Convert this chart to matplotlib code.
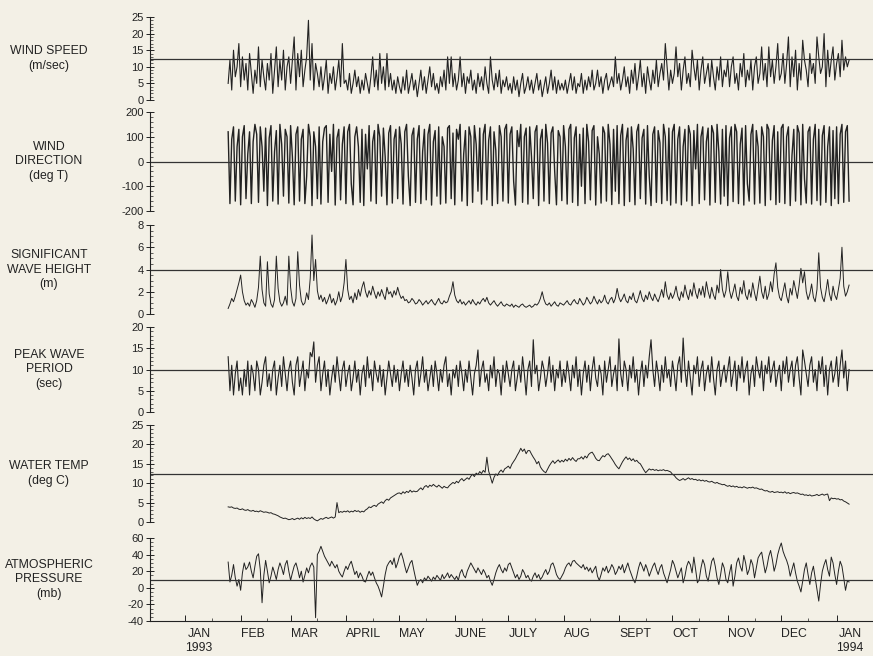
import numpy as np
import matplotlib
matplotlib.use("Agg")
from matplotlib import pyplot as plt
from matplotlib.ticker import MultipleLocator

plt.rcParams['font.family'] = ['Liberation Sans', 'DejaVu Sans']
plt.rcParams['axes.unicode_minus'] = False

# daily values, first day = 25 Jan 1993 (day 24 counted from 1 Jan 1993)
start_day = 24

wind_speed = [
    5, 12, 3, 15, 7, 10, 17,
    4, 13, 6, 11, 3, 14, 8, 2, 9, 5, 16, 4, 12, 7, 3, 11, 6, 14, 2, 9, 16, 4, 12, 6, 15, 3, 10, 13,
    5, 12, 19, 3, 14, 7, 15, 4, 9, 13, 24, 6, 17, 3, 11, 8, 4, 10, 3, 7, 12, 2, 8, 5, 10, 3, 7, 12, 4, 17, 5,
    6, 3, 8, 2, 5, 9, 4, 7, 2, 6, 3, 8, 5, 2, 7, 13, 4, 9, 3, 14, 5, 10, 3, 14, 4, 8, 3, 6, 2, 7,
    4, 2, 7, 3, 9, 2, 5, 8, 3, 6, 1, 5, 9, 3, 7, 2, 6, 10, 4, 8, 3, 5, 2, 7, 4, 9, 3, 13, 5, 13, 4,
    8, 3, 6, 13, 4, 8, 2, 7, 5, 9, 3, 6, 2, 8, 4, 7, 3, 10, 5, 2, 13, 6, 3, 8, 4, 9, 2, 6, 4, 7,
    3, 5, 2, 7, 3, 6, 1, 5, 8, 2, 4, 7, 3, 6, 2, 5, 8, 3, 6, 1, 4, 7, 2, 5, 9, 3, 7, 2, 6, 3, 5,
    3, 6, 2, 5, 8, 3, 7, 2, 5, 4, 8, 2, 6, 3, 7, 4, 9, 3, 5, 9, 4, 7, 2, 6, 8, 3, 5, 7, 4, 13, 5,
    8, 3, 6, 10, 4, 7, 2, 9, 5, 11, 3, 7, 12, 4, 8, 2, 10, 6, 3, 9, 5, 12, 4, 8, 11, 6, 17, 10, 3, 9,
    5, 8, 16, 7, 11, 3, 9, 13, 5, 8, 4, 15, 10, 6, 12, 3, 9, 13, 5, 8, 11, 4, 12, 7, 3, 10, 6, 13, 4, 9, 7,
    12, 4, 10, 13, 5, 8, 3, 11, 7, 14, 4, 9, 6, 12, 3, 10, 13, 5, 8, 16, 6, 11, 4, 16, 7, 12, 5, 10, 17, 6,
    8, 14, 5, 11, 19, 4, 13, 7, 15, 3, 11, 6, 18, 12, 9, 4, 14, 8, 11, 5, 19, 13, 8, 10, 20, 4, 15, 7, 12, 16, 6,
    11, 14, 7, 18, 9, 13, 10, 12,
]

wind_dir = [
    120, -170, 90, 140, -160, 60, 130,
    -175, 100, 145, -150, 30, 120, -170, 80, 150, 110, -165, 140, 60, -120, 135, -178, 95, 145, -160, 40, 125, -172, 150, 70, -140, 130, 100, -168,
    145, 20, -175, 110, 140, -160, 90, 130, -170, -60, 150, 100, -178, 120, 60, -150, 140, -172, 80, 135, 145, -165, 110, -40, 150, -176, 95, 130, -155, 70, 140,
    -170, 120, 150, -90, -175, 100, 140, 60, -165, 130, -178, 110, -30, 145, -160, 80, 125, -170, 150, 100, -140, 135, 20, -175, 115, 145, -168, 90, 130, -150,
    140, 70, -172, 120, 150, -60, -178, 105, 135, -165, 90, 145, -170, 40, 130, -155, 110, 150, -176, 80, 125, -140, 140, -172, 100, 60, -168, 135, 145, -150, 115,
    -175, 130, 90, 150, -160, 30, 125, -178, 140, 100, -165, 145, 70, -120, 135, -172, 110, 150, -155, 85, 140, -178, 120, 45, -170, 145, 100, -160, 130, 150,
    -168, 110, 140, -80, -176, 125, 60, 150, -165, 100, 135, -172, 140, 20, -150, 120, 145, -178, 90, 130, -160, 150, 75, -170, 115, 140, -40, -175, 125, 100, -158,
    145, 60, -172, 130, 150, -165, 95, 140, -178, 110, -100, 135, -170, 150, 80, -155, 125, 145, -176, 100, 30, -168, 140, 115, -160, 150, 70, -174, 130, -120, 145,
    -170, 105, 150, -178, 85, 135, -162, 140, 50, -175, 120, 150, -150, 95, 130, -172, 145, -60, -178, 110, 140, -165, 125, 75, -170, 150, 100, -158, 135, -176,
    120, 150, -168, 90, 140, -175, 60, 130, -160, 145, 110, -178, 125, -30, 150, -170, 100, 140, -155, 80, 135, -176, 145, 115, -165, 150, 40, -172, 130, -140, 145,
    -178, 95, 140, -162, 150, 120, -170, 70, 135, -176, 145, -90, -160, 110, 150, -172, 125, 60, -168, 140, 100, -178, 150, 130, -155, 85, 145, -174, 120, -165,
    135, 150, -170, 100, 140, -178, 25, 130, -160, 145, 115, -175, 150, -70, -168, 120, 140, -172, 90, 150, -158, 130, -176, 105, 145, -165, 60, 140, -178, 125, -150,
    140, -170, 110, 150, -165, 120, 145, -160,
]

wave_height = [
    0.5, 0.9, 1.4, 1.1, 1.6, 2.2, 2.8,
    3.5, 2.0, 1.2, 0.8, 1.0, 0.7, 1.3, 1.0, 0.6, 1.2, 2.4, 5.2, 2.2, 1.0, 0.7, 4.7, 1.8, 0.9, 0.6, 1.3, 5.2, 2.3, 1.1, 0.7, 1.0, 1.6, 0.8, 5.2,
    2.4, 1.1, 0.7, 1.4, 5.6, 2.6, 1.2, 0.8, 1.0, 1.9, 1.3, 3.2, 7.1, 3.0, 4.9, 2.1, 1.3, 1.7, 1.1, 1.5, 0.9, 1.3, 1.8, 1.0, 1.4, 0.8, 1.2, 2.0, 1.1, 1.6, 2.8,
    4.9, 2.2, 1.3, 1.6, 1.0, 1.9, 1.3, 2.2, 1.6, 2.4, 2.9, 2.0, 1.5, 2.1, 1.7, 2.5, 1.9, 1.4, 2.0, 1.6, 2.2, 1.7, 1.3, 2.4, 1.8, 2.0, 1.5, 2.1, 1.7, 2.4,
    1.8, 1.4, 1.6, 1.2, 1.3, 1.0, 1.1, 1.4, 1.2, 0.9, 1.0, 1.3, 1.1, 0.8, 1.0, 1.2, 0.9, 1.1, 1.3, 1.0, 0.8, 1.1, 1.4, 1.0, 0.9, 1.2, 1.0, 1.1, 1.6, 2.0, 2.9,
    1.7, 1.2, 1.0, 1.3, 0.9, 1.1, 0.8, 1.0, 1.2, 0.9, 1.3, 1.0, 0.8, 1.1, 0.9, 1.2, 1.4, 1.1, 1.5, 1.0, 0.8, 1.0, 1.2, 0.9, 0.7, 0.9, 1.1, 0.8, 0.7, 0.9,
    0.8, 0.7, 0.9, 0.6, 0.8, 0.7, 0.6, 0.8, 0.9, 0.7, 0.6, 0.7, 0.8, 0.6, 0.7, 0.9, 0.8, 1.0, 1.4, 2.0, 1.3, 0.9, 0.8, 1.0, 0.7, 0.9, 1.1, 0.8, 0.7, 1.0, 0.9,
    0.8, 1.0, 1.2, 0.9, 0.8, 1.1, 1.3, 1.0, 0.9, 1.4, 1.1, 0.8, 1.0, 1.5, 1.2, 0.9, 1.1, 1.6, 1.2, 0.9, 1.3, 1.0, 1.2, 1.7, 1.1, 0.9, 1.3, 1.5, 1.0, 1.4, 2.3,
    1.5, 1.1, 1.4, 1.8, 1.2, 1.0, 1.6, 1.3, 1.9, 1.2, 1.0, 1.5, 2.1, 1.4, 1.1, 1.7, 1.3, 2.0, 1.5, 1.2, 1.8, 1.4, 1.1, 1.6, 2.2, 1.5, 2.9, 1.7, 1.3, 1.9,
    1.4, 1.8, 2.5, 1.6, 1.2, 2.0, 1.5, 2.6, 1.8, 1.3, 2.2, 1.6, 2.8, 1.9, 1.4, 2.3, 1.7, 2.5, 1.5, 2.9, 2.0, 1.4, 2.4, 1.7, 1.3, 2.6, 1.9, 4.0, 2.2, 1.5, 2.1,
    3.8, 2.1, 1.4, 2.0, 2.7, 1.6, 1.2, 2.4, 1.8, 3.0, 1.7, 1.3, 2.2, 1.5, 2.8, 1.9, 1.2, 2.3, 3.4, 2.0, 1.4, 2.5, 1.3, 1.8, 2.9, 2.0, 3.6, 4.6, 2.4, 1.5,
    1.2, 2.0, 2.8, 1.6, 1.0, 2.3, 1.7, 3.0, 2.2, 1.4, 2.6, 4.1, 2.8, 3.8, 2.0, 1.3, 1.8, 2.7, 1.5, 1.1, 2.2, 5.5, 2.4, 1.5, 1.1, 2.0, 3.1, 1.8, 1.2, 2.5, 1.7,
    1.3, 2.2, 3.2, 6.0, 2.5, 1.6, 2.0, 2.6,
]

peak_period = [
    13, 5, 11, 4, 9, 12, 5,
    8, 4, 10, 6, 12, 4, 11, 9, 5, 12, 10, 4, 7, 11, 13, 6, 9, 5, 10, 12, 4, 8, 11, 6, 13, 9, 5, 10,
    12, 7, 4, 11, 13, 6, 9, 12, 5, 10, 8, 14, 13, 16.5, 7, 11, 13, 5, 9, 12, 6, 10, 4, 8, 11, 7, 13, 9, 5, 10, 12,
    6, 9, 11, 5, 8, 12, 7, 10, 4, 9, 11, 6, 13, 8, 10, 5, 12, 9, 7, 11, 6, 10, 4, 8, 12, 9, 6, 11, 7, 10,
    5, 9, 12, 7, 10, 6, 11, 8, 4, 10, 12, 6, 9, 13, 7, 10, 5, 8, 11, 6, 12, 9, 5, 10, 7, 11, 13, 6, 9, 4, 10,
    8, 11, 6, 12, 9, 5, 10, 7, 12, 8, 4, 9, 11, 14.6, 6, 10, 12, 7, 9, 5, 11, 8, 13, 6, 10, 9, 4, 11, 7, 12,
    9, 6, 10, 12, 5, 8, 11, 7, 13, 9, 4, 10, 12, 6, 17, 9, 11, 5, 8, 12, 10, 6, 9, 13, 7, 11, 5, 10, 8, 12, 6,
    10, 7, 12, 9, 5, 11, 8, 13, 6, 10, 4, 9, 12, 7, 11, 5, 10, 13, 8, 6, 11, 9, 4, 12, 7, 10, 13, 6, 9, 11, 5,
    17.2, 9, 6, 12, 10, 5, 11, 8, 13, 7, 10, 4, 9, 12, 6, 11, 8, 13, 17, 10, 6, 12, 9, 5, 11, 7, 13, 8, 10, 6,
    12, 9, 5, 11, 13, 7, 17.4, 10, 6, 12, 8, 4, 11, 9, 13, 6, 10, 12, 5, 9, 11, 7, 13, 8, 4, 10, 12, 6, 9, 11, 7,
    10, 13, 6, 9, 12, 5, 11, 8, 13, 7, 10, 12, 4, 9, 11, 6, 13, 10, 8, 12, 5, 11, 9, 13, 7, 10, 12, 6, 9, 11,
    5, 12, 9, 13, 7, 10, 12, 6, 11, 13, 8, 4, 14.6, 12, 9, 6, 11, 13, 7, 10, 5, 12, 9, 13, 6, 11, 4, 10, 12, 7, 9,
    13, 6, 11, 14.6, 8, 12, 5, 10,
]

water_temp = [
    3.9, 3.8, 3.9, 3.6, 3.5, 3.6, 3.3,
    3.2, 3.4, 3.1, 3.0, 3.2, 2.9, 2.8, 3.0, 2.7, 2.8, 2.6, 2.9, 2.7, 2.5, 2.6, 2.5, 2.3, 2.4, 2.1, 2.0, 1.8, 1.6, 1.3, 1.1, 0.9, 1.0, 0.8, 0.6,
    0.7, 0.9, 0.6, 0.8, 1.0, 0.7, 1.1, 0.8, 1.2, 0.9, 1.1, 0.9, 1.3, 0.8, 0.5, 0.3, 0.6, 0.9, 0.7, 1.0, 1.2, 0.9, 1.1, 1.3, 1.0, 1.3, 5.0, 2.4, 2.7, 2.5, 2.8,
    2.6, 2.9, 2.5, 2.8, 2.6, 3.0, 2.7, 2.9, 2.5, 2.8, 2.6, 3.1, 3.4, 3.9, 3.7, 4.1, 4.3, 4.0, 4.6, 4.9, 5.2, 4.8, 5.5, 5.9, 5.6, 6.2, 6.5, 6.8, 7.1, 7.4,
    7.5, 7.2, 7.8, 7.4, 7.9, 7.6, 8.2, 7.7, 8.0, 7.8, 7.9, 8.4, 8.8, 8.3, 9.1, 9.4, 8.9, 9.5, 9.2, 9.7, 9.3, 9.0, 9.5, 9.1, 8.7, 9.2, 8.9, 8.8, 9.4, 9.8, 10.2,
    9.9, 10.5, 10.1, 10.8, 11.2, 10.6, 11.0, 11.4, 11.0, 11.8, 12.3, 11.7, 12.6, 12.2, 13.0, 12.5, 13.3, 12.8, 16.7, 13.1, 11.6, 10.0, 11.5, 12.4, 12.0, 12.9, 13.4, 12.8, 13.7, 14.0,
    14.4, 13.8, 14.9, 15.6, 16.3, 17.2, 18.0, 19.0, 18.2, 18.8, 17.6, 18.4, 18.4, 17.5, 16.7, 16.0, 15.0, 15.6, 14.2, 13.5, 13.0, 12.7, 13.6, 14.5, 15.2, 15.8, 15.1, 15.6, 16.0, 15.4, 15.9,
    15.5, 16.2, 15.7, 16.4, 15.9, 16.6, 16.0, 15.6, 16.3, 16.3, 16.8, 16.2, 17.0, 16.5, 17.4, 17.8, 18.0, 17.3, 16.4, 15.9, 15.8, 16.5, 17.1, 16.8, 17.4, 17.6, 17.0, 16.3, 15.6, 14.8, 14.2,
    13.7, 14.6, 15.5, 16.2, 16.8, 16.1, 16.5, 15.8, 16.3, 15.6, 15.9, 15.3, 15.0, 14.2, 13.4, 12.7, 13.2, 13.7, 13.4, 13.6, 13.3, 13.5, 13.2, 13.4, 13.3, 13.5, 13.2, 13.3, 13.1, 12.9,
    12.3, 12.0, 11.4, 11.0, 10.7, 10.9, 11.2, 10.8, 11.1, 11.4, 11.0, 11.2, 10.9, 11.0, 10.7, 10.9, 10.6, 10.8, 10.5, 10.7, 10.4, 10.3, 10.5, 10.2, 10.0, 10.2, 9.9, 9.8, 9.6, 9.7, 9.4,
    9.2, 9.4, 9.1, 9.3, 9.0, 9.2, 8.9, 9.0, 8.8, 9.1, 8.9, 8.7, 8.9, 8.8, 9.0, 8.7, 8.8, 8.6, 8.4, 8.5, 8.2, 8.0, 8.1, 7.8, 7.7, 7.9, 7.6, 7.7, 7.8, 7.6,
    7.7, 7.5, 7.8, 7.4, 7.6, 7.3, 7.5, 7.6, 7.4, 7.5, 7.3, 7.1, 7.2, 6.9, 7.0, 6.8, 7.0, 6.7, 6.8, 6.9, 7.1, 6.8, 7.0, 7.2, 6.9, 7.1, 7.2, 5.5, 6.2, 6.0, 6.1,
    5.9, 6.0, 5.7, 5.8, 5.4, 5.2, 4.9, 4.6,
]

pressure = [
    31, 7, 15, 28, 12, 2, 10,
    -3, 18, 30, 22, 25, 31, 20, 12, 26, 38, 41, 22, -18, 15, 33, 20, 6, 14, 25, 18, 10, 22, 30, 24, 16, 28, 33, 20,
    9, 18, 26, 30, 22, 12, 20, 7, 15, 24, 18, 26, 30, 25, -36, 40, 44, 50, 44, 38, 34, 30, 26, 32, 28, 24, 28, 20, 16, 13, 20,
    26, 22, 28, 32, 24, 16, 20, 12, 18, 14, 8, 7, 14, 20, 15, 19, 12, 6, 2, -4, -11, 2, 16, 26, 30, 33, 28, 36, 24, 30,
    38, 42, 35, 26, 18, 24, 30, 33, 22, 12, 3, 8, 10, 6, 12, 9, 14, 11, 8, 13, 10, 15, 12, 9, 16, 11, 14, 18, 12, 16, 13,
    10, 14, 9, 18, 22, 15, 12, 20, 25, 30, 26, 22, 18, 24, 20, 16, 22, 18, 12, 15, 8, 3, 10, 18, 24, 28, 22, 18, 24, 20,
    28, 30, 24, 18, 12, 16, 10, 14, 22, 18, 12, 15, 10, 8, 14, 18, 12, 16, 10, 13, 18, 22, 16, 20, 28, 30, 24, 16, 12, 10, 14,
    18, 24, 28, 30, 26, 32, 33, 30, 28, 26, 24, 28, 22, 25, 20, 24, 18, 22, 26, 14, 9, 16, 24, 20, 26, 18, 22, 28, 24, 16, 20,
    26, 22, 28, 18, 24, 30, 22, 16, 10, 6, 14, 24, 31, 26, 20, 28, 22, 14, 20, 26, 30, 22, 16, 24, 28, 18, 12, 6, 14, 22,
    33, 28, 20, 12, 18, 24, 6, 14, 26, 32, 28, 18, 37, 22, 6, 10, 24, 34, 28, 14, 8, 20, 32, 36, 26, 12, 4, 16, 30, 24, 10,
    6, 18, 28, 2, 14, 30, 36, 26, 20, 39, 30, 16, 22, 34, 28, 12, 24, 36, 40, 43, 30, 18, 26, 38, 45, 34, 20, 28, 40, 48,
    54, 44, 38, 33, 26, 14, 22, 30, 18, 8, 2, -5, 8, 22, 30, 16, 4, 18, 26, 12, -2, -16, 4, 20, 28, 34, 22, 14, 37, 30, 16,
    4, 20, 32, 26, 12, -3, 8, 7,
]

month_days = [0, 31, 59, 90, 120, 151, 181, 212, 243, 273, 304, 334, 365]
month_names = ["JAN\n1993", "FEB", "MAR", "APRIL", "MAY", "JUNE", "JULY",
               "AUG", "SEPT", "OCT", "NOV", "DEC", "JAN\n1994"]

# series, label, ylim, major step, minor step, line width, top px, bottom px
panels = [
    (wind_speed, "WIND SPEED\n(m/sec)", (0, 25), 5, 1, 0.8, 17, 100),
    (wind_dir, "WIND\nDIRECTION\n(deg T)", (-200, 200), 100, 20, 1.0, 112, 211),
    (wave_height, "SIGNIFICANT\nWAVE HEIGHT\n(m)", (0, 8), 2, 0.5, 0.7, 225, 314),
    (peak_period, "PEAK WAVE\nPERIOD\n(sec)", (0, 20), 5, 1, 0.8, 327, 412),
    (water_temp, "WATER TEMP\n(deg C)", (0, 25), 5, 1, 0.7, 425, 522),
    (pressure, "ATMOSPHERIC\nPRESSURE\n(mb)", (-40, 60), 20, 5, 0.7, 538, 621),
]

bg = "#f3f0e6"
ink = "#222222"
W, H = 873, 656

fig = plt.figure(figsize=(W / 100, H / 100), dpi=100, facecolor=bg)

for i, (vals, label, ylim, major, minor, lw, top, bot) in enumerate(panels):
    ax = fig.add_axes([150 / W, 1 - bot / H, (W - 150) / W, (bot - top) / H])
    ax.set_facecolor("none")
    days = np.arange(start_day, start_day + len(vals))
    ax.plot(days, vals, color=ink, lw=lw)
    ax.axhline((ylim[0] + ylim[1]) / 2, color="#333333", lw=0.9)
    ax.set_xlim(-19.8, 385.4)
    ax.set_ylim(*ylim)
    ax.yaxis.set_major_locator(MultipleLocator(major))
    ax.yaxis.set_minor_locator(MultipleLocator(minor))
    ax.tick_params(axis="y", which="major", direction="inout", length=6,
                   width=0.7, labelsize=8, pad=1.5, colors=ink)
    ax.tick_params(axis="y", which="minor", direction="in", length=2.5,
                   width=0.5, colors=ink)
    for s in ["top", "right"]:
        ax.spines[s].set_visible(False)
    ax.spines["left"].set_linewidth(0.8)
    ax.spines["left"].set_color(ink)
    if i < len(panels) - 1:
        ax.spines["bottom"].set_visible(False)
        ax.set_xticks([])
    else:
        ax.spines["bottom"].set_linewidth(0.8)
        ax.spines["bottom"].set_color(ink)
        ax.set_xticks(month_days)
        ax.set_xticklabels(month_names, ha="left", multialignment="center")
        ax.set_xticks([d + 15 for d in month_days[:-1]], minor=True)
        ax.tick_params(axis="x", which="major", direction="in", length=4,
                       width=0.7, labelsize=8.8, pad=5, colors=ink)
        ax.tick_params(axis="x", which="minor", direction="in", length=2,
                       width=0.5, colors=ink)
    fig.text(49 / W, 1 - (top + bot) / 2 / H, label, ha="center", va="center",
             fontsize=8.8, color=ink, linespacing=1.25)

plt.savefig("out.png", dpi=100, facecolor=bg)
